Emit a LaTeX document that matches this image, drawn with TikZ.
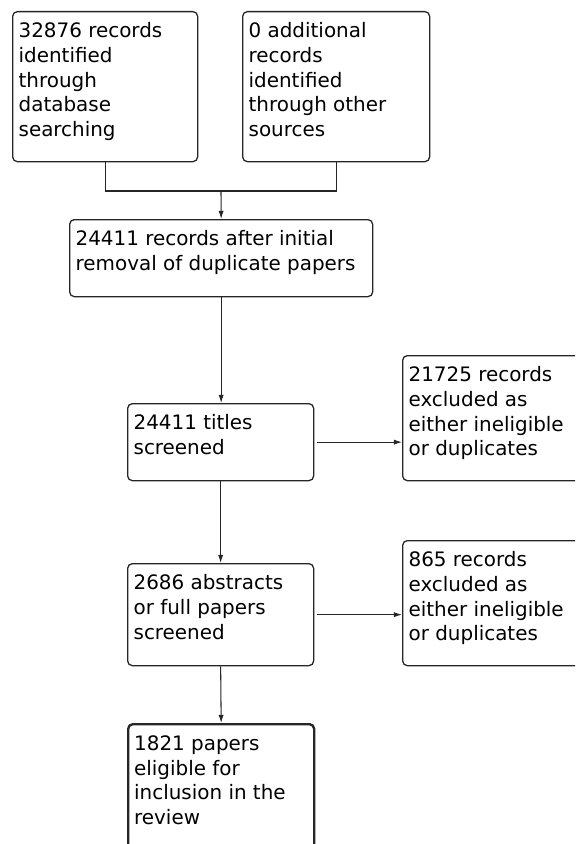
\documentclass[tikz,border=0pt]{standalone}
\usepackage{fontspec}
\setmainfont{DejaVu Sans}
\usetikzlibrary{arrows.meta}

\newlength\pxu
\setlength\pxu{0.03cm}
\newcommand{\boxtext}[3]{\parbox[t][\dimexpr #2\pxu-18\pxu\relax][t]{\dimexpr #1\pxu-12\pxu\relax}{\raggedright\strut #3}}

\begin{document}
\begin{tikzpicture}[
        x=0.03cm, y=-0.03cm,
        stage/.style={draw=black!85, line width=1.1pt, rounded corners=4pt, inner xsep=0.18cm, inner ysep=0.27cm, anchor=north west, font=\fontsize{17pt}{21pt}\selectfont},
        final/.style={stage, line width=2pt},
        line/.style={draw=black!85, line width=0.9pt},
        link/.style={line, -{Latex[length=7pt,width=4.5pt]}},
    ]

    \useasboundingbox (0,0) rectangle (575,844);
    \clip (0,0) rectangle (575,844);

    \node[stage] (db) at (12,11) {\boxtext{185}{150}{32876 records\\identified\\through\\database\\searching}};
    \node[stage] (other) at (242,11) {\boxtext{187}{150}{0 additional\\records\\identified\\through other\\sources}};
    \coordinate (join) at (221,191);

    \node[stage] (dedup) at (69,219) {\boxtext{303}{77}{24411 records after initial\\removal of duplicate papers}};

    \node[stage] (titles) at (127,403) {\boxtext{186}{77}{24411 titles\\screened}};
    \node[stage] (exTitles) at (402,355) {\boxtext{195}{125}{21725 records\\excluded as\\either ineligible\\or duplicates}};

    \node[stage] (abstracts) at (127,563) {\boxtext{186}{102}{2686 abstracts\\or full papers\\screened}};
    \node[stage] (exAbstracts) at (402,540) {\boxtext{195}{125}{865 records\\excluded as\\either ineligible\\or duplicates}};

    \node[final] (included) at (127,723) {\boxtext{186}{160}{1821 papers\\eligible for\\inclusion in the\\review}};

    \draw[line] (db.south) |- (join);
    \draw[line] (other.south) |- (join);
    \draw[link] (join) -- (dedup.north);
    \draw[link] (dedup.south) -- (dedup.south |- titles.north);
    \draw[link] (titles.south) -- (abstracts.north);
    \draw[link] (abstracts.south) -- (included.north);
    \draw[link, shorten <=3\pxu] (titles.east) -- (titles.east -| exTitles.west);
    \draw[link, shorten <=3\pxu] (abstracts.east) -- (abstracts.east -| exAbstracts.west);
\end{tikzpicture}
\end{document}
